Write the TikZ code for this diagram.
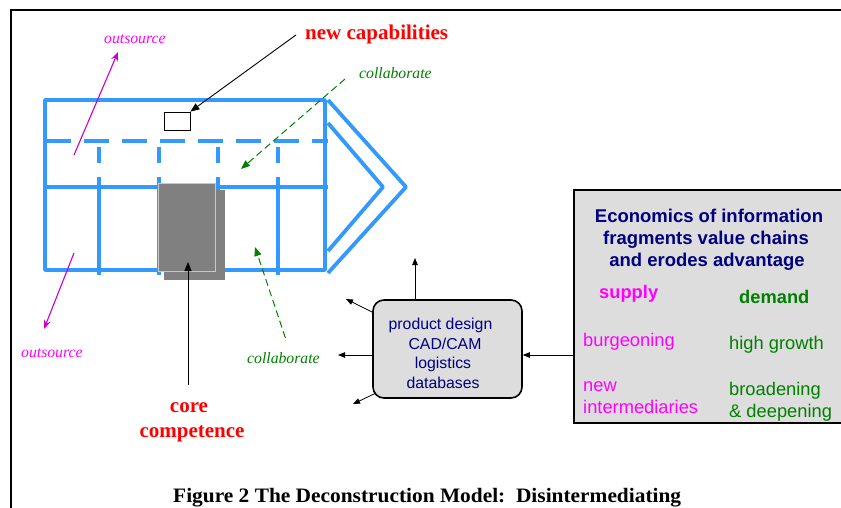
\documentclass[tikz,border=0pt]{standalone}
\usepackage{fontspec}
\setmainfont{Liberation Serif}
\newfontfamily\arialf{Liberation Sans}
\usetikzlibrary{arrows.meta,calc}
\definecolor{gridblue}{RGB}{51,153,255}
\definecolor{magtext}{RGB}{255,0,255}
\definecolor{magline}{RGB}{204,0,204}
\definecolor{grn}{RGB}{0,128,0}
\definecolor{navyblue}{RGB}{0,0,128}
\definecolor{boxgray}{RGB}{221,221,221}
\definecolor{coregray}{RGB}{128,128,128}
\definecolor{edgegray}{RGB}{200,200,200}
\begin{document}
\begin{tikzpicture}[x=1pt,y=-1pt,
  gridline/.style={draw=gridblue,line width=3.8pt,line join=round},
  gdash/.style={gridline,dash pattern=on 25pt off 13pt},
  blkarrow/.style={draw=black,line width=0.9pt,-{Triangle[length=9pt,width=7pt]}},
  thinarrow/.style={draw=black,line width=0.8pt,-{Triangle[length=7pt,width=5.5pt]}},
  magarrow/.style={draw=magline,line width=1.1pt,-{Stealth[length=9pt,width=7pt]}},
  grnarrow/.style={draw=grn,line width=1pt,dash pattern=on 7pt off 4pt,-{Triangle[length=9pt,width=7pt]}},
  redlabel/.style={inner sep=0pt,text=red,font=\fontsize{21}{25}\selectfont\bfseries},
  outlabel/.style={inner sep=0pt,text=magtext,font=\fontsize{15.7}{19}\selectfont\itshape},
  collabel/.style={inner sep=0pt,text=grn,font=\fontsize{15.7}{19}\selectfont\itshape},
  rtext/.style={inner sep=0pt,anchor=base,text=navyblue,font=\arialf\fontsize{15.8}{19}\selectfont},
  etitle/.style={inner sep=0pt,anchor=base,text=navyblue,font=\arialf\fontsize{18.5}{22}\selectfont\bfseries},
  etext/.style={inner sep=0pt,anchor=base west,font=\arialf\fontsize{18.3}{22}\selectfont},
]
\useasboundingbox (0,0) rectangle (841,507);
\clip (0,0) rectangle (841,507);
\fill[white] (0,0) rectangle (841,507);

% frame
\draw[line width=2.5pt] (11,520) -- (11,10) -- (850,10);

% value chain grid
\draw[gridline] (45,100) rectangle (325,270);
\draw[gdash] (46,141) -- (328,141);
\draw[gridline] (45,187) -- (328,187);
\foreach \x in {99,159,218,278} {
  \draw[gridline] (\x,147) -- (\x,163);
  \draw[gridline] (\x,177) -- (\x,275);
}
% chevrons
\draw[gridline] (328,100) -- (406,187) -- (328,273);
\draw[gridline] (328,123) -- (383,187) -- (328,251);

% core competence block
\fill[coregray] (164,190) rectangle (225,280);
\node[draw=edgegray,fill=coregray,line width=1pt,minimum width=57pt,minimum height=88pt,inner sep=0pt] (core) at (186.5,227) {};

% new capability box
\node[draw=black,fill=white,line width=0.8pt,minimum width=26pt,minimum height=18pt,inner sep=0pt] (nc) at (177,121) {};

% labels
\node[redlabel,anchor=base west] (ncap) at (305,39) {new capabilities};
\node[redlabel,anchor=base] (core1) at (189,412) {core};
\node[redlabel,anchor=base] (core2) at (192,437) {competence};
\node[outlabel,anchor=base west] (out1) at (104,43) {outsource};
\node[outlabel,anchor=base west] (out2) at (21,357) {outsource};
\node[collabel,anchor=base west] (col1) at (359,78) {collaborate};
\node[collabel,anchor=base west] (col2) at (247,363) {collaborate};

% arrows on the left part
\draw[blkarrow] ($(ncap.west)+(-9,1)$) -- (nc.north east);
\coordinate (coretip) at (188,262);
\draw[blkarrow] ($(core1.north)+(-1,-17)$) -- (coretip);
\coordinate (o1s) at (74,155);
\coordinate (o1e) at (118,52);
\draw[magarrow] (o1s) -- (o1e);
\coordinate (o2s) at (74,253);
\coordinate (o2e) at (44,329);
\draw[magarrow] (o2s) -- (o2e);
\coordinate (c1e) at (241,169);
\draw[grnarrow] ($(col1.base west)+(-14,1)$) -- (c1e);
\coordinate (c2e) at (255,247);
\draw[grnarrow] ($(col2.north)+(2,-14)$) -- (c2e);

% rounded information box
\node[draw=black,fill=boxgray,line width=1.6pt,rounded corners=11pt,minimum width=149pt,minimum height=98pt,inner sep=0pt] (rb) at (447.5,349) {};
\node[rtext] (r1) at (440.5,329.5) {product design};
\node[rtext] (r2) at (445,349) {CAD/CAM};
\node[rtext] (r3) at (443,368.5) {logistics};
\node[rtext] (r4) at (443,388) {databases};

\coordinate (a1) at (415,258);
\draw[thinarrow] (a1 |- rb.north) -- (a1);
\coordinate (a2s) at (374,313);
\coordinate (a2) at (346,299);
\draw[thinarrow] (a2s) -- (a2);
\coordinate (a3) at (338,355);
\draw[thinarrow] (a3 -| rb.west) -- (a3);
\coordinate (a4s) at (376,393);
\coordinate (a4) at (353,404);
\draw[thinarrow] (a4s) -- (a4);

% economics box
\node[draw=black,fill=boxgray,line width=1.8pt,minimum width=271pt,minimum height=233pt,inner sep=0pt] (eb) at (709.5,306.5) {};
\draw[thinarrow] (eb.west |- a3) -- (rb.east |- a3);

\node[etitle] (t1) at (709,222) {Economics of information};
\node[etitle] (t2) at (706,244) {fragments value chains};
\node[etitle] (t3) at (707,266) {and erodes advantage};
\node[etext,text=magtext,font=\arialf\fontsize{18.3}{22}\selectfont\bfseries] (sup) at (599,298) {supply};
\node[etext,text=grn,font=\arialf\fontsize{18.3}{22}\selectfont\bfseries] (dem) at (739,303) {demand};
\node[etext,text=magtext] (s1) at (583,346) {burgeoning};
\node[etext,text=grn] (d1) at (729,349) {high growth};
\node[etext,text=magtext] (s2a) at (583,391) {new};
\node[etext,text=magtext] (s2b) at (583,413) {intermediaries};
\node[etext,text=grn] (d2a) at (729,395) {broadening};
\node[etext,text=grn] (d2b) at (729,417) {\& deepening};

% caption
\node[inner sep=0pt,anchor=base west,font=\fontsize{20.5}{24}\selectfont\bfseries] (cap) at (173,502) {\scalebox{1.043}[1]{Figure 2 The Deconstruction Model:\ \ Disintermediating}};
\end{tikzpicture}
\end{document}
